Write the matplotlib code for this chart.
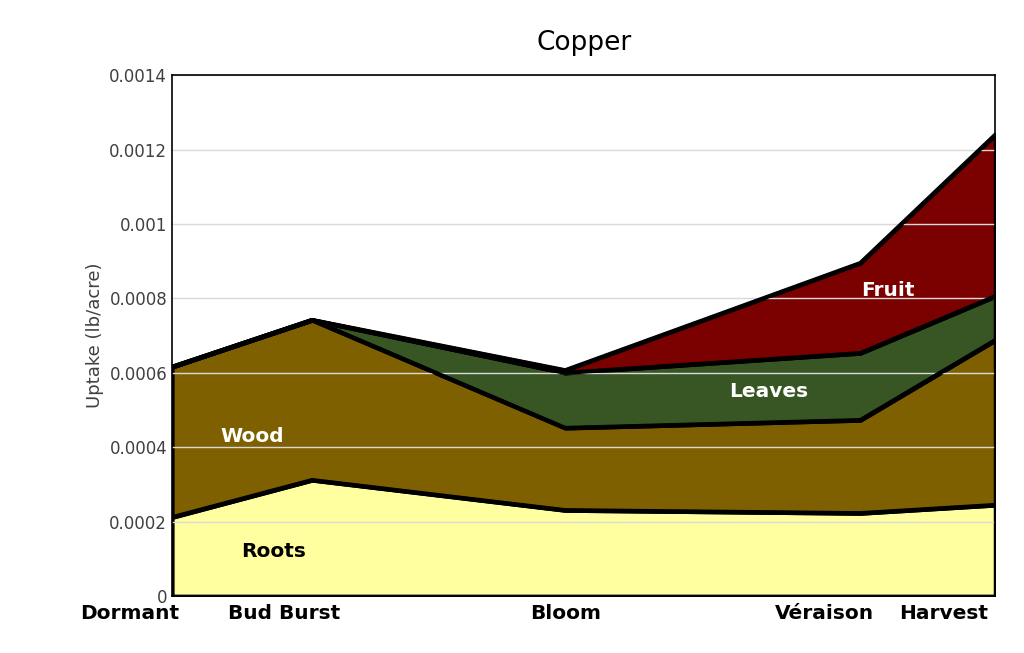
import matplotlib.pyplot as plt
import numpy as np

stages = ["Dormant", "Bud Burst", "Bloom", "Véraison", "Harvest"]
days = [0, 140, 393, 688, 823]
roots = [0.000212, 0.000312, 0.000231, 0.000223, 0.000245]
wood = [0.000404, 0.000430, 0.000221, 0.000250, 0.000443]
leaves = [0.0, 0.0, 0.000148, 0.000180, 0.000118]
fruit = [0.0, 0.0, 0.000007, 0.000242, 0.000434]

colors = ["#FFFFA0", "#7F6000", "#375623", "#7B0000"]
names = ["Roots", "Wood", "Leaves", "Fruit"]

fig = plt.figure(figsize=(10.24, 6.53), dpi=100)
ax = fig.add_axes([0.168, 0.087, 0.804, 0.798])
series = [roots, wood, leaves, fruit]
ax.stackplot(days, *series, colors=colors, edgecolor="black", linewidth=3)
cum = np.cumsum(np.array(series), axis=0)
for c in cum:
    ax.plot(days, c, color="black", linewidth=3)
ax.set_xlim(days[0], days[-1])
ax.set_ylim(0, 0.0014)
ax.set_yticks(np.arange(0, 0.00141, 0.0002))
ax.set_yticklabels(["0", "0.0002", "0.0004", "0.0006", "0.0008", "0.001", "0.0012", "0.0014"])
ax.yaxis.grid(True, color="#d9d9d9", linewidth=1)
ax.set_xticks([])
ax.tick_params(axis="y", length=0, labelsize=12, labelcolor="#404040")
ax.set_ylabel("Uptake (lb/acre)", fontsize=13, color="#404040")
ax.set_title("Copper", fontsize=19, pad=18)
for s in ax.spines.values():
    s.set_linewidth(1.2)
# category labels placed under their stages (shifted as in the reference)
label_x = [-42, 112, 393, 652, 771]
for x, s in zip(label_x, stages):
    ax.text(x, -0.00002, s, fontsize=14.5, fontweight="bold", ha="center", va="top",
            transform=ax.transData, clip_on=False)
lbl = dict(fontsize=14.5, fontweight="bold", ha="center", va="center")
ax.text(101, 0.00012, "Roots", color="black", **lbl)
ax.text(80, 0.00043, "Wood", color="white", **lbl)
ax.text(596, 0.00055, "Leaves", color="white", **lbl)
ax.text(716, 0.00082, "Fruit", color="white", **lbl)
fig.savefig("out.png", dpi=100)
